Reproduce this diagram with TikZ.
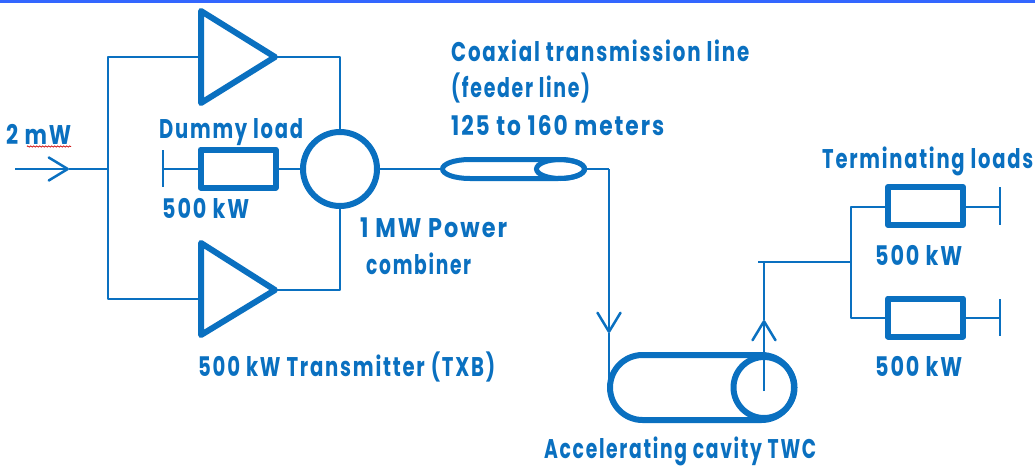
\documentclass[tikz,border=0pt]{standalone}
\usepackage{fontspec}
\usepackage{graphicx}
\setmainfont{Poppins}[LetterSpace=9]
\usetikzlibrary{arrows.meta,shapes.geometric,decorations.pathmorphing}
\definecolor{ink}{HTML}{0A70C0}
\definecolor{topbar}{HTML}{3366FF}
\newcommand{\lbl}[5]{\node[lbl] (#1) at (#2,#3) {\resizebox{#4pt}{\height}{#5}};}
\tikzset{
  lbl/.style={anchor=base west,inner sep=0pt,text=ink,font=\fontsize{27}{27}\selectfont\bfseries},
  wire/.style={draw=ink,line width=2.5pt,line join=round},
  heavy/.style={draw=ink,line width=6pt,line join=round},
  barb/.style={-{Straight Barb[length=19pt,width=23pt,line width=2.5pt,color=ink,round]}},
  loadbox/.style={heavy,minimum width=75pt,minimum height=38pt,inner sep=0pt,outer sep=0pt},
  ring/.style={heavy,circle,inner sep=0pt,outer sep=0pt},
}
\begin{document}
\begin{tikzpicture}[x=1pt,y=-1pt]
\useasboundingbox (0,0) rectangle (1035,466);
\fill[white] (0,0) rectangle (1035,466);
\fill[topbar] (0,0) rectangle (1035,3);
% amplifiers
\coordinate (ta) at (201,11); \coordinate (tb) at (201,103); \coordinate (ttip) at (275,57);
\coordinate (ba) at (201,243); \coordinate (bb) at (201,335); \coordinate (btip) at (275,290);
\draw[heavy] (ta) -- (ttip) -- (tb) -- cycle;
\draw[heavy] (ba) -- (btip) -- (bb) -- cycle;
\coordinate (tin) at (201,57); \coordinate (bin) at (201,299);
\coordinate (railtl) at (108,57); \coordinate (railbl) at (108,299); \coordinate (junc) at (108,169);
\coordinate (railtr) at (340,57); \coordinate (railbr) at (340,290);
\coordinate (source) at (15,169); \coordinate (intip) at (69,169);
% combiner, dummy load
\node[ring,minimum size=74pt] (comb) at (340,169) {};
\node[loadbox] (dummy) at (238,168.5) {};
\coordinate (dstub) at (163,169);
\draw[wire] (tin) -- (railtl) -- (railbl) -- (bin);
\draw[wire] (ttip) -- (railtr) -- (comb.north);
\draw[wire] (btip) -- (railbr) -- (comb.south);
\draw[wire,barb] (source) -- (intip);
\draw[wire] (intip) -- (junc);
\draw[wire] (dstub) -- (dummy.west |- dstub);
\draw[wire] (dummy.east |- comb.west) -- (comb.west);
\draw[wire] (163,150) -- (dstub) -- (163,187);
% coaxial line
\coordinate (cxl) at (442.5,169); \coordinate (cxr) at (584.5,169);
\draw[draw=ink,line width=5pt] (cxl) .. controls (442.5,164) and (454,159.5) .. (470,159.5)
  -- (558,159.5) .. controls (574,159.5) and (584.5,164) .. (cxr)
  .. controls (584.5,174) and (574,178.5) .. (558,178.5) -- (470,178.5)
  .. controls (454,178.5) and (442.5,174) .. (cxl) -- cycle;
\node[draw=ink,line width=5pt,ellipse,minimum width=48pt,minimum height=19pt,inner sep=0pt,outer sep=0pt] (cxin) at (560.5,169) {};
\draw[wire] (comb.east) -- (cxl);
% cavity
\node[heavy,rounded corners=32.5pt,minimum width=184pt,minimum height=65pt,inner sep=0pt,outer sep=0pt] (cav) at (702,387.5) {};
\node[ring,minimum size=61pt] (cell) at (764,387.5) {};
\coordinate (cxc) at (609,169); \coordinate (dntip) at (609,333); \coordinate (cavin) at (609,380);
\draw[wire] (cxr) -- (cxc);
\draw[wire,barb] (cxc) -- (dntip);
\draw[wire] (dntip) -- (cavin);
\coordinate (celc) at (764,391); \coordinate (uptip) at (764,320); \coordinate (uptop) at (764,262);
\coordinate (upl) at (758,262); \coordinate (tj) at (851,262);
\draw[wire,barb] (celc) -- (uptip);
\draw[wire] (uptip) -- (uptop);
\draw[wire] (upl) -- (tj);
% terminating loads
\node[loadbox] (t1) at (925.5,206) {};
\node[loadbox] (t2) at (925.5,317.5) {};
\coordinate (t1l) at (851,207); \coordinate (t2l) at (851,318);
\coordinate (t1s) at (1000,207); \coordinate (t2s) at (1000,318);
\draw[wire] (t1.west |- t1l) -- (t1l) -- (t2l) -- (t2.west |- t2l);
\draw[wire] (t1.east |- t1s) -- (t1s);
\draw[wire] (t2.east |- t2s) -- (t2s);
\draw[wire] (1000,187) -- (t1s) -- (1000,225);
\draw[wire] (1000,299) -- (t2s) -- (1000,336);
% labels
\lbl{lmw}{6}{144}{65}{2 mW}
\draw[red!80!black,line width=.7pt,decorate,decoration={zigzag,segment length=3pt,amplitude=.7pt}] (27,146.5) -- (71,146.5);
\lbl{ldl}{159}{138}{144}{Dummy load}
\lbl{ldk}{162}{218}{87}{500 kW}
\lbl{lmp}{360}{237}{147}{1 MW Power}
\lbl{lcb}{366}{274}{105}{combiner}
\lbl{lcx}{451}{61}{298}{Coaxial transmission line}
\lbl{lfd}{451}{97}{139}{(feeder line)}
\lbl{lmt}{451}{135}{213}{125 to 160 meters}
\lbl{ltl}{822}{168}{211}{Terminating loads}
\lbl{lt1}{875}{265}{87}{500 kW}
\lbl{lt2}{875}{376}{87}{500 kW}
\lbl{lac}{544}{458}{272}{Accelerating cavity TWC}
\lbl{ltx}{198}{376}{297}{500 kW Transmitter (TXB)}
\end{tikzpicture}
\end{document}
